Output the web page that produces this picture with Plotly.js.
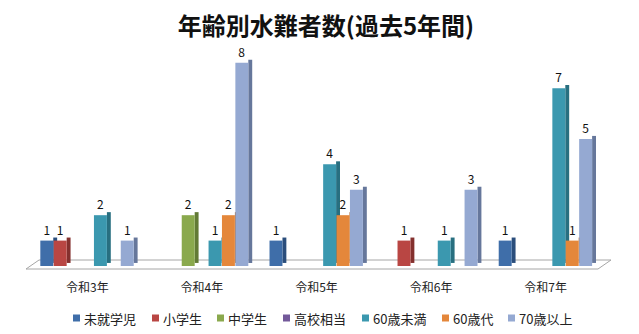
<!DOCTYPE html>
<html>
<head>
<meta charset="utf-8">
<script src="https://cdn.plot.ly/plotly-3.0.1.min.js"></script>
<style>
  html, body { margin: 0; padding: 0; background: #ffffff; }
  #chart { width: 639px; height: 334px; }
</style>
</head>
<body>
<div id="chart"></div>
<script>
// 年齢別水難者数（過去5年間）
const years = ['令和3年', '令和4年', '令和5年', '令和6年', '令和7年'];
const groups = ['未就学児', '小学生', '中学生', '高校相当', '60歳未満', '60歳代', '70歳以上'];

// counts per age group, one entry per year (null = no case)
const preschool   = [1, null, 1, null, 1];
const elementary  = [1, null, null, 1, null];
const juniorHigh  = [null, 2, null, null, null];
const highSchool  = [null, null, null, null, null];
const under60     = [2, 1, 4, 1, 7];
const sixties     = [null, 2, 2, null, 1];
const over70      = [1, 8, 3, 3, 5];

const seriesValues = [preschool, elementary, juniorHigh, highSchool, under60, sixties, over70];

const faceColors = ['#3f6ea9', '#b94643', '#8aa94d', '#73599a', '#3b98af', '#e4873b', '#95a9d2'];
const sideColors = ['#2b4e7c', '#84302e', '#627a35', '#513f6e', '#286f80', '#a9612a', '#66779b'];

// geometry of the pseudo-3D columns, in category units
const slot = 0.117;
const faceW = 0.113;
const sideW = 0.034;
const groupStart = -0.41;
const depth = 0.12;

const traces = [];
seriesValues.forEach((vals, i) => {
  const off = groupStart + i * slot;
  // darker side face, lifted slightly for depth
  traces.push({
    type: 'bar', x: years, y: vals, base: depth,
    offset: off + faceW, width: sideW,
    marker: { color: sideColors[i], line: { width: 0 } },
    showlegend: false, hoverinfo: 'skip'
  });
  // front face with its value label
  traces.push({
    type: 'bar', name: groups[i], x: years, y: vals,
    offset: off, width: faceW,
    marker: { color: faceColors[i], line: { width: 0 } },
    text: vals.map(v => v == null ? '' : String(v)),
    textposition: 'outside',
    textfont: { family: 'Noto Sans CJK JP, sans-serif', size: 12, color: '#111' },
    cliponaxis: false,
    showlegend: false
  });
});

// plot-area mapping helpers for the floor and legend (pixel -> paper)
const plotL = 30, plotW = 573, plotBottom = 266, plotH = 234;
const px = p => (p - plotL) / plotW;
const py = p => (plotBottom - p) / plotH;

const shapes = [{
  type: 'path', xref: 'paper', yref: 'paper', layer: 'below',
  path: `M${px(26)},${py(269)} L${px(598)},${py(269)} L${px(611)},${py(260)} L${px(39)},${py(260)} Z`,
  fillcolor: '#ffffff', line: { color: '#a6a6a6', width: 1 }
}];

// legend built from the series names and colours
const legendX = [73, 152, 217, 283, 362, 442, 508];
const annotations = [];
groups.forEach((g, i) => {
  shapes.push({
    type: 'rect', xref: 'paper', yref: 'paper',
    x0: px(legendX[i]), x1: px(legendX[i] + 7),
    y0: py(321.5), y1: py(314.5),
    fillcolor: faceColors[i], line: { width: 0 }
  });
  annotations.push({
    xref: 'paper', yref: 'paper',
    x: px(legendX[i] + 9), y: py(318),
    xanchor: 'left', yanchor: 'middle', showarrow: false,
    text: g,
    font: { family: 'Noto Sans CJK JP, sans-serif', size: 13, color: '#222' }
  });
});

const layout = {
  width: 639, height: 334,
  margin: { l: plotL, r: 639 - plotL - plotW, t: plotBottom - plotH, b: 334 - plotBottom },
  paper_bgcolor: '#ffffff', plot_bgcolor: 'rgba(0,0,0,0)',
  barmode: 'overlay',
  title: {
    text: '<b>年齢別水難者数(過去5年間)</b>',
    font: { family: 'Noto Sans CJK JP, sans-serif', size: 24, color: '#111' },
    x: 326 / 639, xref: 'container', xanchor: 'center',
    y: 1 - 27 / 334, yref: 'container', yanchor: 'middle'
  },
  xaxis: {
    type: 'category', range: [-0.5, 4.5],
    showline: false, showgrid: false, zeroline: false,
    ticks: 'outside', ticklen: 11, tickcolor: 'rgba(0,0,0,0)',
    tickfont: { family: 'Noto Sans CJK JP, sans-serif', size: 12, color: '#222' }
  },
  yaxis: {
    range: [0, 9.21], visible: false, showgrid: false, zeroline: false
  },
  showlegend: false,
  shapes: shapes,
  annotations: annotations
};

Plotly.newPlot('chart', traces, layout, { displayModeBar: false, staticPlot: true });
</script>
</body>
</html>
